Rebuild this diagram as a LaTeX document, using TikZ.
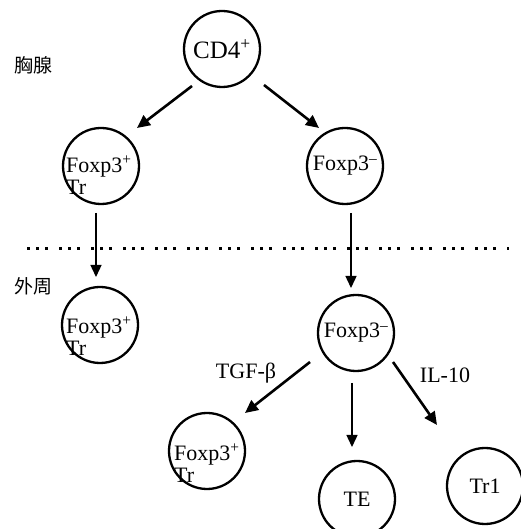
\documentclass[tikz,border=0pt]{standalone}
\usepackage{fontspec}
\setmainfont{Liberation Serif}
\newfontfamily\cjk{Noto Sans CJK SC}
\usetikzlibrary{arrows.meta,calc}
\tikzset{
  cell/.style={circle,draw,line width=2.3pt,minimum size=76pt,inner sep=0pt,
    font=\fontsize{22}{22}\selectfont},
  celltxt/.style={inner sep=0pt,align=left,anchor=west,
    font=\fontsize{22}{22}\selectfont},
  lab/.style={inner sep=0pt,font=\fontsize{22}{22}\selectfont},
  zh/.style={inner sep=0pt,font=\cjk\fontsize{19}{20}\selectfont},
  arrd/.style={line width=2.6pt,-{Triangle[length=13pt,width=12pt]}},
  arrv/.style={line width=1.4pt,-{Triangle[length=12pt,width=11pt]}},
}
\begin{document}
\begin{tikzpicture}[x=1pt,y=1pt]
\useasboundingbox (0,0) rectangle (520,529);
% cells
\node[cell,font=\fontsize{25}{27}\selectfont] (cd4) at (222,480) {CD4\textsuperscript{+}};
\node[cell] (fl) at (101,363) {};
\node[celltxt] (flt) at ($(fl)+(-35,-9)$) {Foxp3\textsuperscript{+}\\Tr};
\node[cell] (fr) at (345,363) {Foxp3\textsuperscript{–}};
\node[cell] (pl) at (100,204) {};
\node[celltxt] (plt) at ($(pl)+(-34,-11)$) {Foxp3\textsuperscript{+}\\Tr};
\node[cell] (pr) at (356,196) {Foxp3\textsuperscript{–}};
\node[cell] (tr) at (207,78) {};
\node[celltxt] (trt) at ($(tr)+(-33,-12)$) {Foxp3\textsuperscript{+}\\Tr};
\node[cell] (te) at (357,30) {TE};
\node[cell] (tr1) at (485,43) {Tr1};
% labels
\node[zh] (thy) at (33,464) {胸腺};
\node[zh] (per) at (33,243) {外周};
\node[lab] (tgf) at (246,156) {TGF-β};
\node[lab] (il) at (445,154) {IL-10};
% dotted boundary
\coordinate (dl) at (27,280);
\coordinate (dr) at (509,280);
\draw[line width=3pt,dash pattern=on 3pt off 6pt on 3pt off 6pt on 3pt off 11pt] (dl) -- (dr);
% arrows
\draw[arrd] ($(cd4)+(-30,-37)$) -- ($(fl)+(36,38)$);
\draw[arrd] ($(cd4)+(42,-36)$) -- ($(fr)+(-26,38)$);
\draw[arrv] ($(fl)+(-5,-47)$) -- ($(pl)+(-4,48)$);
\draw[arrv] ($(fr)+(6,-47)$) -- ($(pr)+(-5,45)$);
\draw[arrd] ($(pr)+(-46,-29)$) -- ($(tr)+(38,38)$);
\draw[arrv] ($(pr)+(-4,-50)$) -- ($(te)+(-5,52)$);
\draw[arrd] ($(pr)+(37,-29)$) -- ($(tr1)+(-48,61)$);
\end{tikzpicture}
\end{document}
